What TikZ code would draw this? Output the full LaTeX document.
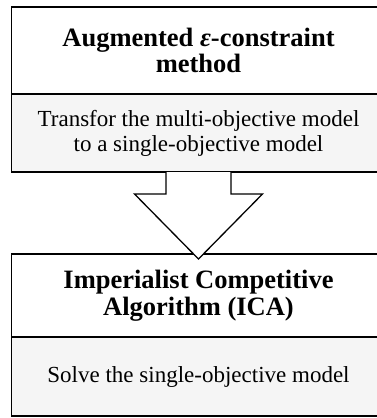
\documentclass[tikz,border=0pt]{standalone}
\usepackage{fontspec}
\setmainfont{Liberation Serif}
\usetikzlibrary{positioning,calc}
\begin{document}
\begin{tikzpicture}[x=1pt,y=1pt,
        headbox/.style={draw,line width=1.7pt,outer sep=0pt,minimum width=374pt,align=center,font=\fontsize{26.5}{26.5}\selectfont\bfseries},
        bodybox/.style={draw,line width=1.7pt,outer sep=0pt,fill=black!4,minimum width=374pt,align=center,font=\fontsize{23}{25}\selectfont},
        blockarrow/.style={draw,line width=1.3pt,fill=white,line join=miter}]
        \useasboundingbox (0,0) rectangle (377,-418);
        \node[headbox,minimum height=87pt] (aug) at (198.5,-50.5) {Augmented {\itshape ε}-constraint\\method};
        \node[bodybox,minimum height=78pt,below=0pt of aug] (transf) {Transfor the multi-objective model\\to a single-objective model};
        \node[headbox,minimum height=83pt] (ica) at (198.5,-295.5) {Imperialist Competitive\\Algorithm (ICA)};
        \node[bodybox,minimum height=79pt,below=0pt of ica] (solve) {Solve the single-objective model};
        \coordinate (SL) at ($(transf.south)+(-32.5,0)$);
        \coordinate (SR) at ($(transf.south)+(32.5,0)$);
        \coordinate (HL) at ($(transf.south)+(-64,-22)$);
        \coordinate (HR) at ($(transf.south)+(64,-22)$);
        \coordinate (T) at ($(ica.north)+(0,-5)$);
        \draw[blockarrow] (SL) -- (SL|-HL) -- (HL) -- (T) -- (HR) -- (SR|-HR) -- (SR);
\end{tikzpicture}
\end{document}
